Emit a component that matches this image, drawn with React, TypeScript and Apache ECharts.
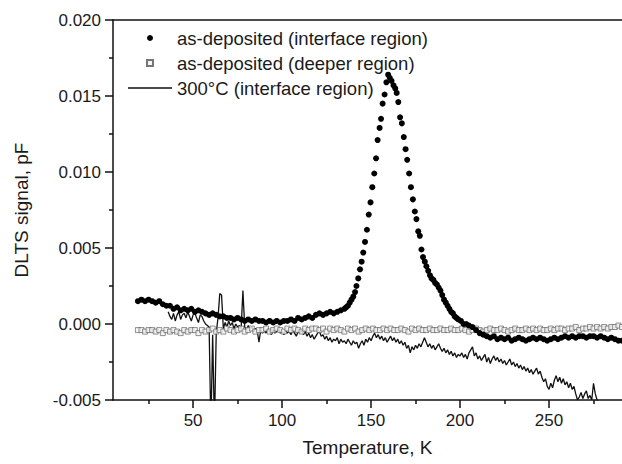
import React, { useEffect, useRef } from "react";
import * as echarts from "echarts";

// ---------- data ----------
// as-deposited (interface region): left flat part, sampled every 2 K from 19 K
const IF_LEFT_T0 = 19;
const IF_LEFT_STEP = 2;
const ifLeft = [
  0.0015, 0.0016, 0.0015, 0.0016, 0.0015, 0.0014, 0.0015, 0.0013, 0.0012, 0.0012,
  0.0010, 0.0011, 0.0009, 0.0010, 0.0009, 0.0010, 0.0008, 0.0009, 0.0008, 0.0007,
  0.0006, 0.0007, 0.0006, 0.0005, 0.0005, 0.0004, 0.0004, 0.0003, 0.0004, 0.0003,
  0.0002, 0.0003, 0.0002, 0.0003, 0.0002, 0.0002, 0.0001, 0.0002, 0.0001, 0.0002,
  0.0001, 0.0002, 0.0002, 0.0003, 0.0002, 0.0004, 0.0003, 0.0004, 0.0005, 0.0004,
  0.0006, 0.0007, 0.0006, 0.0007, 0.0008, 0.0007, 0.0008, 0.0009, 0.0010,
];
// peak part: temperature / signal pairs
const ifPeakT = [
  136, 137, 138, 139, 140, 141, 141.8, 142.8, 143.8, 144.7, 145.6, 146.6, 147.7, 148.7, 149.7,
  150.7, 151.8, 152.8, 153.7, 154.8, 155.6, 156.5, 157.6, 158.6, 159.6, 160.5, 161.5, 162.6,
  163.6, 164.4, 165.3, 166.3, 167.3, 168.4, 169.4, 170.3, 171.4, 172.4, 173.5, 174.6, 175.5,
  176.5, 177.4, 178.3, 179.2, 180.2, 181.1, 182.1, 183.1, 184, 185, 186, 187, 188, 189, 190,
  191, 192, 193, 194, 195, 196, 197, 198, 199, 200.5, 202, 203.5,
];
const ifPeakV = [
  0.0011, 0.0012, 0.0014, 0.0016, 0.0018, 0.0021, 0.0025, 0.0030, 0.0036, 0.0041, 0.0047, 0.0054, 0.0062, 0.0072, 0.0080,
  0.0090, 0.0099, 0.0109, 0.0121, 0.0129, 0.0135, 0.0145, 0.0151, 0.0159, 0.0164, 0.0162, 0.0160, 0.0157,
  0.0155, 0.0152, 0.0146, 0.0136, 0.0132, 0.0123, 0.0115, 0.0108, 0.0099, 0.0090, 0.0082, 0.0074, 0.0069,
  0.0061, 0.0058, 0.0049, 0.0044, 0.0041, 0.0038, 0.0035, 0.0032, 0.0030, 0.0029, 0.0027, 0.0026, 0.0024, 0.0022, 0.0019,
  0.0016, 0.0014, 0.0012, 0.0010, 0.0008, 0.0007, 0.0005, 0.0004, 0.0003, 0.0002, 0.0000, -0.0000,
];
// tail part, sampled every 2 K from 205 K
const IF_TAIL_T0 = 205;
const IF_TAIL_STEP = 2;
const ifTail = [
  -0.0001, -0.0002, -0.0004, -0.0006, -0.0007, -0.0008, -0.0009, -0.0008, -0.0010, -0.0009,
  -0.0010, -0.0009, -0.0011, -0.0010, -0.0009, -0.0010, -0.0011, -0.0010, -0.0009, -0.0010,
  -0.0009, -0.0010, -0.0011, -0.0010, -0.0009, -0.0010, -0.0009, -0.0008, -0.0009, -0.0008,
  -0.0009, -0.0008, -0.0008, -0.0009, -0.0008, -0.0008, -0.0009, -0.0008, -0.0009, -0.0010,
  -0.0009, -0.0010, -0.0011, -0.0011,
];

// as-deposited (deeper region), sampled every 2 K from 19 K
const DEEP_T0 = 19;
const DEEP_STEP = 2;
const deep = [
  -0.0004, -0.0004, -0.0005, -0.0004, -0.0004, -0.0005, -0.0004, -0.0006, -0.0004, -0.0005,
  -0.0004, -0.0005, -0.0006, -0.0004, -0.0005, -0.0004, -0.0004, -0.0006, -0.0004, -0.0005,
  -0.0004, -0.0003, -0.0005, -0.0004, -0.0005, -0.0003, -0.0004, -0.0005, -0.0004, -0.0003,
  -0.0005, -0.0004, -0.0003, -0.0005, -0.0004, -0.0004, -0.0003, -0.0005, -0.0004, -0.0003,
  -0.0004, -0.0005, -0.0003, -0.0004, -0.0003, -0.0004, -0.0005, -0.0003, -0.0004, -0.0003,
  -0.0003, -0.0004, -0.0003, -0.0005, -0.0003, -0.0004, -0.0003, -0.0004, -0.0005, -0.0003,
  -0.0004, -0.0003, -0.0005, -0.0004, -0.0003, -0.0004, -0.0003, -0.0004, -0.0004, -0.0003,
  -0.0004, -0.0003, -0.0004, -0.0004, -0.0003, -0.0004, -0.0005, -0.0003, -0.0004, -0.0003,
  -0.0004, -0.0004, -0.0003, -0.0004, -0.0004, -0.0003, -0.0004, -0.0004, -0.0003, -0.0004,
  -0.0004, -0.0003, -0.0004, -0.0005, -0.0004, -0.0003, -0.0004, -0.0005, -0.0004, -0.0003,
  -0.0004, -0.0004, -0.0003, -0.0004, -0.0005, -0.0004, -0.0003, -0.0004, -0.0004, -0.0003,
  -0.0004, -0.0003, -0.0004, -0.0003, -0.0004, -0.0004, -0.0003, -0.0004, -0.0003, -0.0003,
  -0.0004, -0.0003, -0.0003, -0.0002, -0.0004, -0.0003, -0.0003, -0.0002, -0.0003, -0.0002,
  -0.0003, -0.0002, -0.0003, -0.0002, -0.0002, -0.0001, -0.0002,
];

// 300°C (interface region), sampled every 1 K from 36 K
const ANN_T0 = 36;
const ANN_STEP = 1;
const annealed = [
  // 36-59
  0.0008, 0.0005, 0.0003, 0.0007, 0.0002, 0.0006, 0.0008, 0.0003, 0.0006, 0.0007,
  0.0004, 0.0008, 0.0005, 0.0002, 0.0006, 0.0007, 0.0004, 0.0001, 0.0006, 0.0005,
  0.0002, 0.0000, -0.0001, -0.0002,
  // 60-89
  -0.0068, -0.0007, -0.0068, -0.0006, 0.0004, 0.0020, 0.0019, -0.0003, 0.0001, -0.0002,
  0.0002, -0.0001, 0.0001, -0.0003, 0.0000, -0.0002, -0.0001, -0.0003, 0.0022, -0.0002,
  -0.0004, -0.0001, -0.0003, -0.0002, -0.0005, -0.0003, -0.0004, -0.0012, -0.0004, -0.0006,
  // 90-119
  -0.0004, -0.0006, -0.0003, -0.0005, -0.0007, -0.0004, -0.0006, -0.0005, -0.0003, -0.0006,
  -0.0005, -0.0007, -0.0004, -0.0006, -0.0005, -0.0007, -0.0004, -0.0006, -0.0008, -0.0005,
  -0.0006, -0.0004, -0.0007, -0.0005, -0.0008, -0.0006, -0.0009, -0.0007, -0.0010, -0.0008,
  // 120-149
  -0.0006, -0.0005, -0.0008, -0.0007, -0.0010, -0.0008, -0.0011, -0.0009, -0.0012, -0.0010,
  -0.0011, -0.0009, -0.0013, -0.0010, -0.0012, -0.0011, -0.0013, -0.0010, -0.0012, -0.0014,
  -0.0011, -0.0013, -0.0012, -0.0016, -0.0013, -0.0011, -0.0014, -0.0010, -0.0012, -0.0009,
  // 150-179
  -0.0011, -0.0008, -0.0006, -0.0009, -0.0007, -0.0010, -0.0008, -0.0011, -0.0009, -0.0012,
  -0.0010, -0.0008, -0.0011, -0.0009, -0.0012, -0.0010, -0.0013, -0.0011, -0.0014, -0.0012,
  -0.0016, -0.0014, -0.0019, -0.0015, -0.0017, -0.0014, -0.0016, -0.0013, -0.0015, -0.0012,
  // 180-209
  -0.0009, -0.0012, -0.0015, -0.0013, -0.0016, -0.0014, -0.0017, -0.0015, -0.0013, -0.0016,
  -0.0018, -0.0016, -0.0019, -0.0017, -0.0020, -0.0018, -0.0021, -0.0019, -0.0022, -0.0020,
  -0.0021, -0.0019, -0.0022, -0.0020, -0.0023, -0.0019, -0.0017, -0.0015, -0.0021, -0.0019,
  // 210-239
  -0.0023, -0.0021, -0.0024, -0.0022, -0.0020, -0.0025, -0.0022, -0.0026, -0.0023, -0.0021,
  -0.0024, -0.0022, -0.0025, -0.0023, -0.0026, -0.0024, -0.0027, -0.0025, -0.0023, -0.0027,
  -0.0025, -0.0028, -0.0026, -0.0029, -0.0027, -0.0030, -0.0028, -0.0031, -0.0029, -0.0032,
  // 240-269
  -0.0030, -0.0033, -0.0031, -0.0029, -0.0033, -0.0031, -0.0035, -0.0038, -0.0036, -0.0041,
  -0.0043, -0.0039, -0.0042, -0.0037, -0.0034, -0.0038, -0.0035, -0.0039, -0.0036, -0.0040,
  -0.0038, -0.0042, -0.0039, -0.0043, -0.0041, -0.0046, -0.0050, -0.0048, -0.0045, -0.0049,
  // 270-278
  -0.0046, -0.0044, -0.0049, -0.0047, -0.0050, -0.0039, -0.0046, -0.0050, -0.0052,
];

const X_MIN = 5;
const X_MAX = 291;
const xMajorTicks = [50, 100, 150, 200, 250];
const xMinorTicks = [25, 75, 125, 175, 225, 275];
const Y_MIN = -0.005;
const Y_MAX = 0.02;
const Y_STEP = 0.005;

const seriesNames = [
  "as-deposited (interface region)",
  "as-deposited (deeper region)",
  "300°C (interface region)",
];

const FONT = '"Liberation Sans", Arial, Helvetica, sans-serif';
const INK = "#1a1a1a";
const AXIS = "#111";

export default function App() {
  const ref = useRef<HTMLDivElement>(null);

  useEffect(() => {
    if (!ref.current) return;
    const chart = echarts.init(ref.current, undefined, { renderer: "svg" });

    const ifData: number[][] = [
      ...ifLeft.map((v, i) => [IF_LEFT_T0 + i * IF_LEFT_STEP, v]),
      ...ifPeakT.map((t, i) => [t, ifPeakV[i]]),
      ...ifTail.map((v, i) => [IF_TAIL_T0 + i * IF_TAIL_STEP, v]),
    ];
    const deepData = deep.map((v, i) => [DEEP_T0 + i * DEEP_STEP, v]);
    const annData = annealed.map((v, i) => [ANN_T0 + i * ANN_STEP, v]);

    chart.setOption({
      animation: false,
      backgroundColor: "#ffffff",
      textStyle: { fontFamily: FONT, color: INK },
      grid: { left: 113, right: 0, top: 20, bottom: 64, containLabel: false },
      legend: {
        left: 128,
        top: 28,
        padding: 0,
        orient: "vertical",
        itemWidth: 44,
        itemHeight: 6,
        itemGap: 5,
        selectedMode: false,
        textStyle: { fontFamily: FONT, fontSize: 18.5, color: INK, lineHeight: 20 },
        data: [
          { name: seriesNames[0], icon: "circle" },
          { name: seriesNames[1], icon: "path://M0,0H10V10H0Z" },
          { name: seriesNames[2], icon: "path://M0,0H44V1.4H0Z" },
        ],
      },
      xAxis: [
        {
          type: "value",
          position: "bottom",
          min: X_MIN,
          max: X_MAX,
          name: "Temperature, K",
          nameLocation: "middle",
          nameGap: 38,
          nameTextStyle: { fontFamily: FONT, fontSize: 19, color: INK },
          splitLine: { show: false },
          axisLine: { show: true, onZero: false, lineStyle: { color: AXIS, width: 1.5 } },
          axisTick: {
            show: true,
            inside: false,
            length: 8,
            customValues: xMajorTicks,
            lineStyle: { color: AXIS, width: 1.5 },
          },
          axisLabel: {
            show: true,
            customValues: xMajorTicks,
            margin: 12,
            fontFamily: FONT,
            fontSize: 17,
            color: INK,
            formatter: (v: number) => String(v),
          },
        },
        {
          type: "value",
          position: "top",
          min: X_MIN,
          max: X_MAX,
          splitLine: { show: false },
          axisLine: { show: true, onZero: false, lineStyle: { color: AXIS, width: 1.5 } },
          axisTick: { show: false },
          axisLabel: { show: false },
        },
        {
          type: "value",
          position: "bottom",
          min: X_MIN,
          max: X_MAX,
          splitLine: { show: false },
          axisLine: { show: false, onZero: false },
          axisTick: {
            show: true,
            inside: false,
            length: 4,
            customValues: xMinorTicks,
            lineStyle: { color: AXIS, width: 1.5 },
          },
          axisLabel: { show: false },
        },
      ],
      yAxis: {
        type: "value",
        min: Y_MIN,
        max: Y_MAX,
        interval: Y_STEP,
        name: "DLTS signal, pF",
        nameLocation: "middle",
        nameGap: 82,
        nameTextStyle: { fontFamily: FONT, fontSize: 19, color: INK },
        splitLine: { show: false },
        axisLine: { show: true, onZero: false, lineStyle: { color: AXIS, width: 1.5 } },
        axisTick: { show: true, inside: false, length: 8, lineStyle: { color: AXIS, width: 1.5 } },
        minorTick: { show: true, splitNumber: 2, length: 4, lineStyle: { color: AXIS, width: 1.5 } },
        axisLabel: {
          margin: 12,
          fontFamily: FONT,
          fontSize: 17,
          color: INK,
          formatter: (v: number) => v.toFixed(3),
        },
      },
      series: [
        {
          name: seriesNames[2],
          type: "line",
          xAxisIndex: 0,
          data: annData,
          symbol: "none",
          showSymbol: false,
          clip: true,
          silent: true,
          lineStyle: { color: "#111", width: 1.3 },
          itemStyle: { color: "#111" },
          z: 2,
        },
        {
          name: seriesNames[1],
          type: "scatter",
          xAxisIndex: 0,
          data: deepData,
          symbol: "rect",
          symbolSize: 5,
          silent: true,
          itemStyle: { color: "#f2f2f2", borderColor: "#555", borderWidth: 0.8 },
          z: 3,
        },
        {
          name: seriesNames[0],
          type: "scatter",
          xAxisIndex: 0,
          data: ifData,
          symbol: "circle",
          symbolSize: 6,
          silent: true,
          itemStyle: { color: "#000", opacity: 1 },
          z: 4,
        },
      ],
    });

    return () => chart.dispose();
  }, []);

  return (
    <div
      ref={ref}
      style={{ position: "absolute", left: 0, top: 0, width: 622, height: 464, background: "#fff" }}
    />
  );
}
